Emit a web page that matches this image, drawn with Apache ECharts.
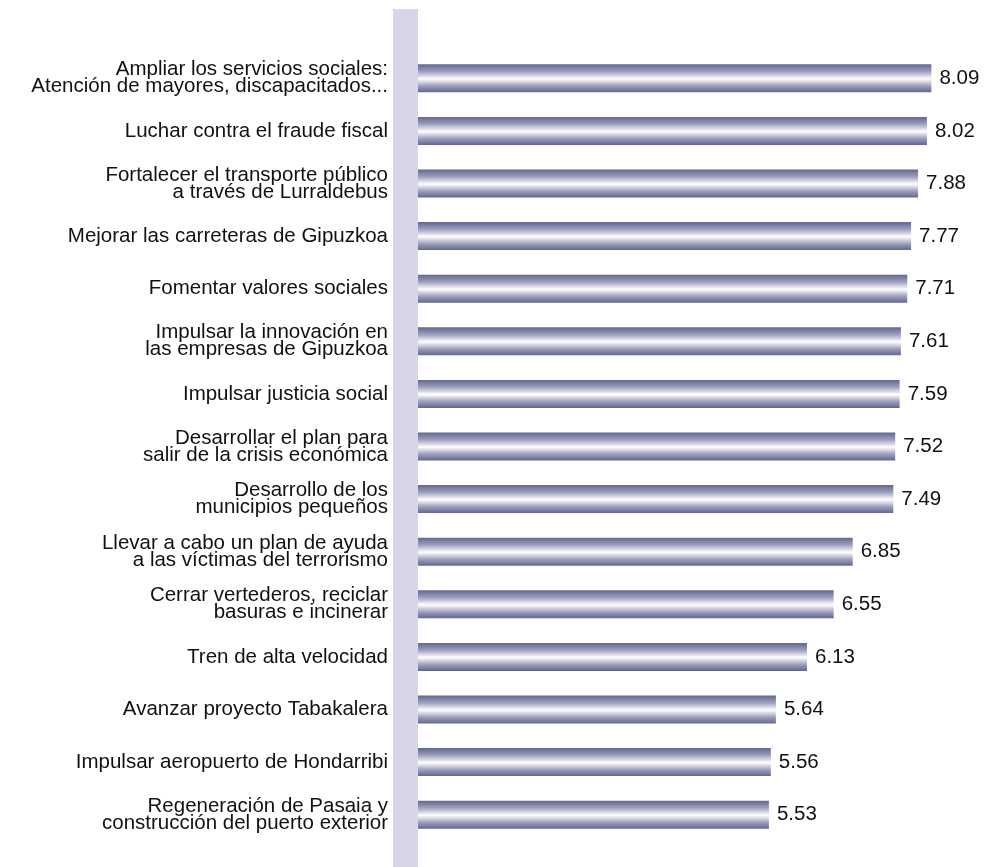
<!DOCTYPE html>
<html>
<head>
<meta charset="utf-8">
<script src="https://cdn.jsdelivr.net/npm/echarts@6/dist/echarts.min.js"></script>
<style>html,body{margin:0;padding:0;background:#fff}#c{width:986px;height:867px}</style>
</head>
<body>
<div id="c"></div>
<script>
const categories = [
  "Ampliar los servicios sociales:\nAtención de mayores, discapacitados...",
  "Luchar contra el fraude fiscal",
  "Fortalecer el transporte público\na través de Lurraldebus",
  "Mejorar las carreteras de Gipuzkoa",
  "Fomentar valores sociales",
  "Impulsar la innovación en\nlas empresas de Gipuzkoa",
  "Impulsar justicia social",
  "Desarrollar el plan para\nsalir de la crisis económica",
  "Desarrollo de los\nmunicipios pequeños",
  "Llevar a cabo un plan de ayuda\na las víctimas del terrorismo",
  "Cerrar vertederos, reciclar\nbasuras e incinerar",
  "Tren de alta velocidad",
  "Avanzar proyecto Tabakalera",
  "Impulsar aeropuerto de Hondarribi",
  "Regeneración de Pasaia y\nconstrucción del puerto exterior"
];
const values = [8.09, 8.02, 7.88, 7.77, 7.71, 7.61, 7.59, 7.52, 7.49, 6.85, 6.55, 6.13, 5.64, 5.56, 5.53];

const chart = echarts.init(document.getElementById('c'));
const font = '"Liberation Sans", Arial, Helvetica, sans-serif';
chart.setOption({
  animation: false,
  graphic: [{
    type: 'rect', z: 0, silent: true,
    shape: {x: 393, y: 9, width: 25, height: 858},
    style: {fill: '#dad4e8'}
  }],
  grid: {left: 418, top: 52, bottom: 26, width: 539.4},
  xAxis: {
    type: 'value', min: 0, max: 8.5, show: false
  },
  yAxis: {
    type: 'category', inverse: true, data: categories,
    axisLine: {show: false}, axisTick: {show: false},
    axisLabel: {
      margin: 30, color: '#111', fontFamily: font, fontSize: 20.5, lineHeight: 17, align: 'right'
    }
  },
  series: [{
    type: 'bar', data: values, barWidth: 28, z: 3,
    itemStyle: {
      color: new echarts.graphic.LinearGradient(0, 0, 0, 1, [
        {offset: 0, color: '#62678f'},
        {offset: 0.25, color: '#9a9dbb'},
        {offset: 0.52, color: '#ffffff'},
        {offset: 0.78, color: '#9a9dbb'},
        {offset: 1, color: '#62678f'}
      ])
    },
    label: {
      show: true, position: 'right', distance: 8, color: '#111',
      fontFamily: font, fontSize: 20.5,
      formatter: p => p.value.toFixed(2)
    }
  }]
});
</script>
</body>
</html>
